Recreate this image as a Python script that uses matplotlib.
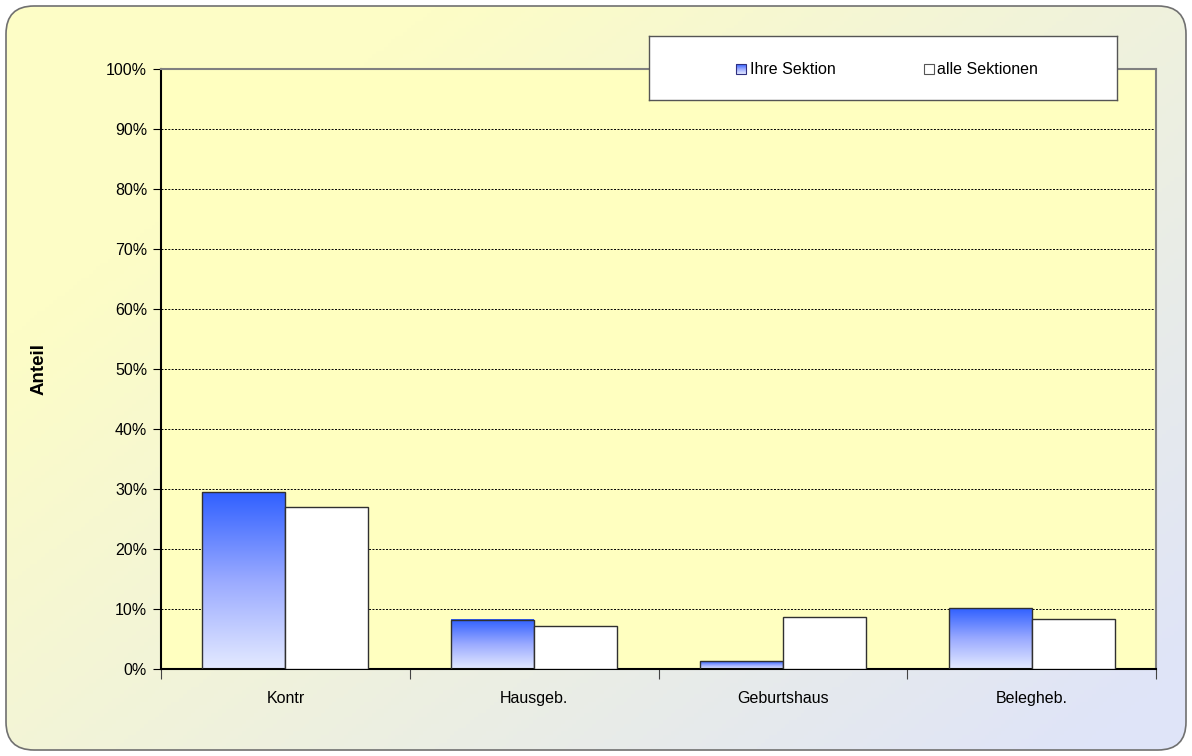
import matplotlib
matplotlib.use("Agg")
import matplotlib.pyplot as plt
import numpy as np
from matplotlib.patches import FancyBboxPatch, Rectangle
from matplotlib.colors import LinearSegmentedColormap, to_rgb
from matplotlib.ticker import MultipleLocator, PercentFormatter

plt.rcParams["font.family"] = ["Liberation Sans Narrow", "Liberation Sans", "DejaVu Sans"]

# Data
categories = ["Kontr", "Hausgeb.", "Geburtshaus", "Belegheb."]
ihre_sektion = [29.5, 8.2, 1.3, 10.1]
alle_sektionen = [27.0, 7.2, 8.7, 8.3]
series_names = ["Ihre Sektion", "alle Sektionen"]

W, H = 1192, 756
fig = plt.figure(figsize=(W / 100, H / 100), dpi=100)
fig.patch.set_facecolor("white")

# Background with diagonal gradient and rounded frame
bg = fig.add_axes([0, 0, 1, 1], zorder=0)
bg.set_xlim(0, W)
bg.set_ylim(H, 0)
bg.axis("off")
yy, xx = np.mgrid[0:1:200j, 0:1:300j]
t = np.clip((xx * 0.55 + yy * 0.45 - 0.2) / 0.75, 0, 1)
c0 = np.array(to_rgb("#fdfdc6"))
c1 = np.array(to_rgb("#dfe4f8"))
grad = c0[None, None, :] * (1 - t[..., None]) + c1[None, None, :] * t[..., None]
im = bg.imshow(grad, extent=(6, W - 6, H - 6, 6), aspect="auto", zorder=0)
frame = FancyBboxPatch((6, 6), W - 12, H - 12,
                       boxstyle="round,pad=0,rounding_size=28",
                       facecolor="none", edgecolor="#707070", lw=1.2, zorder=1)
bg.add_patch(frame)
im.set_clip_path(frame)

# Main axes
ax = fig.add_axes([161 / W, 1 - 669 / H, (1156 - 161) / W, (669 - 69) / H], zorder=1)
ax.set_facecolor("#ffffc0")
x = np.arange(len(categories))
bw = 1 / 3

blue_cmap = LinearSegmentedColormap.from_list("bl", ["#e4eaff", "#9aaaff", "#3060ff"])
gy = np.linspace(0, 1, 256).reshape(-1, 1)
bars1 = ax.bar(x - bw / 2, ihre_sektion, bw, facecolor="none",
               edgecolor="#303030", lw=1.0, zorder=3)
for b in bars1:
    x0, w, h = b.get_x(), b.get_width(), b.get_height()
    ax.imshow(gy, cmap=blue_cmap, origin="lower", extent=(x0, x0 + w, 0, h),
              aspect="auto", zorder=2)
ax.bar(x + bw / 2, alle_sektionen, bw, color="white", edgecolor="#303030",
       lw=1.0, zorder=3)
ax.set_xlim(-0.5, len(categories) - 0.5)
ax.set_ylim(0, 100)

ax.yaxis.set_major_locator(MultipleLocator(10))
ax.yaxis.set_major_formatter(PercentFormatter(decimals=0))
ax.grid(axis="y", color="black", linestyle=(0, (2, 1.5)), lw=0.7, zorder=1)
ax.set_xticks(np.arange(len(categories) + 1) - 0.5)
ax.set_xticks(x, minor=True)
ax.set_xticklabels([])
ax.set_xticklabels(categories, minor=True)
ax.tick_params(axis="x", which="minor", length=0, pad=16, labelsize=11.5)
ax.tick_params(axis="x", which="major", length=7, direction="out", color="#444444")
ax.tick_params(axis="y", length=6, direction="out", labelsize=11.5, pad=4)
for s in ["left", "bottom"]:
    ax.spines[s].set_color("black")
    ax.spines[s].set_linewidth(1.5)
for s in ["top", "right"]:
    ax.spines[s].set_color("#808080")
    ax.spines[s].set_linewidth(1.5)
ax.set_ylabel("Anteil", fontsize=13.5, fontweight="bold", labelpad=42)

# Legend box
lg = fig.add_axes([649 / W, 1 - 100 / H, (1117 - 649) / W, (100 - 36) / H], zorder=5)
lg.set_xticks([])
lg.set_yticks([])
for s in lg.spines.values():
    s.set_color("#555555")
    s.set_linewidth(1.0)
lg.imshow(gy[::-1], cmap=blue_cmap, extent=(87, 97, 38, 28), aspect="auto", zorder=2)
lg.add_patch(Rectangle((87, 28), 10, 10, facecolor="none", edgecolor="#303080", lw=0.8, zorder=3))
lg.add_patch(Rectangle((275, 28), 10, 10, facecolor="white", edgecolor="#555555", lw=0.8, zorder=3))
lg.text(101, 33, series_names[0], va="center", ha="left", fontsize=11.5)
lg.text(288, 33, series_names[1], va="center", ha="left", fontsize=11.5)
lg.set_xlim(0, 468)
lg.set_ylim(64, 0)

fig.savefig("out.png", dpi=100)
